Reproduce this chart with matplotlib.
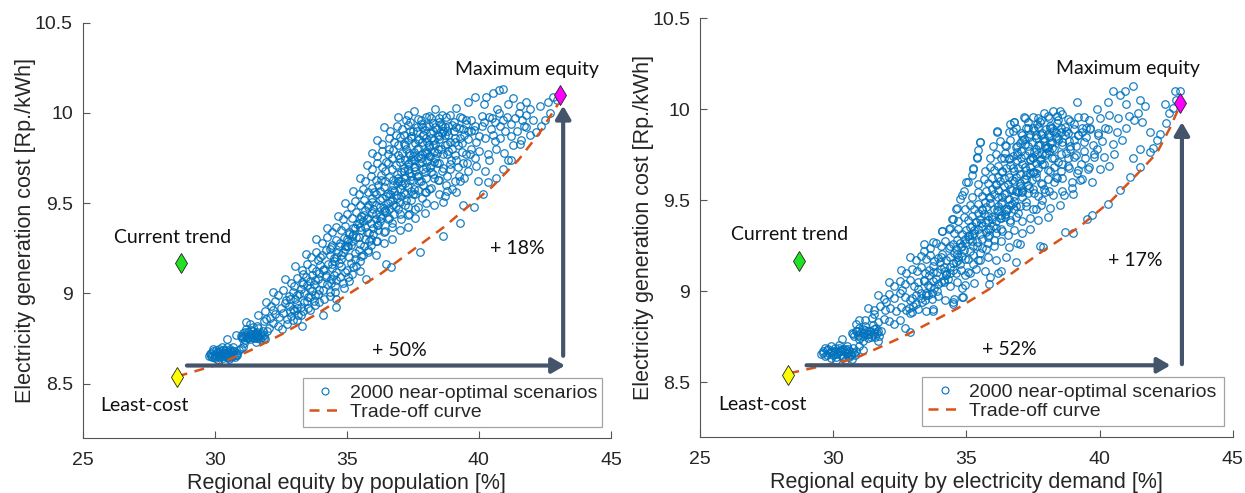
import numpy as np
import matplotlib
matplotlib.use("Agg")
import matplotlib.pyplot as plt
from matplotlib.lines import Line2D

plt.rcParams["font.family"] = ["Liberation Sans", "DejaVu Sans"]

# ---------------------------------------------------------------- data
# near-optimal scenarios, equity by population (x [%], cost [Rp./kWh])
pop_scenarios = [
    # lowest cluster
    (29.78, 8.655), (29.85, 8.67), (29.9, 8.645), (29.95, 8.68), (30.0, 8.66), (30.02, 8.64),
    (30.08, 8.675), (30.1, 8.655), (30.15, 8.69), (30.18, 8.645), (30.22, 8.665), (30.25, 8.68),
    (30.3, 8.655), (30.33, 8.64), (30.36, 8.67), (30.4, 8.685), (30.42, 8.66), (30.46, 8.645),
    (30.5, 8.675), (30.53, 8.655), (30.57, 8.665), (30.6, 8.69), (30.63, 8.645), (30.67, 8.67),
    (30.7, 8.655), (30.75, 8.68), (30.8, 8.66), (30.86, 8.67), (30.92, 8.685), (30.12, 8.63),
    (30.38, 8.625), (30.55, 8.635), (29.92, 8.69), (30.28, 8.7), (30.48, 8.705), (30.7, 8.705),
    (31.0, 8.695), (30.45, 8.745), (31.08, 8.7),
    # second cluster
    (30.98, 8.765), (31.02, 8.75), (31.06, 8.78), (31.1, 8.76), (31.14, 8.74), (31.18, 8.77),
    (31.22, 8.755), (31.26, 8.785), (31.3, 8.765), (31.34, 8.745), (31.38, 8.775), (31.42, 8.76),
    (31.46, 8.79), (31.5, 8.75), (31.54, 8.77), (31.58, 8.755), (31.62, 8.785), (31.66, 8.765),
    (31.7, 8.745), (31.74, 8.78), (31.78, 8.76), (31.83, 8.79), (31.88, 8.77), (31.2, 8.8),
    (31.45, 8.815), (31.65, 8.81), (31.9, 8.745), (32.0, 8.79), (31.1, 8.725), (31.55, 8.73),
    (31.2, 8.84), (30.8, 8.77),
    # main band
    (31.35, 8.83), (31.6, 8.82), (31.85, 8.845), (32.05, 8.81), (32.2, 8.835), (32.4, 8.82),
    (32.55, 8.805), (31.95, 8.86),
    (31.65, 8.88), (31.9, 8.9), (32.1, 8.865), (32.3, 8.885), (32.45, 8.87), (32.6, 8.89),
    (32.75, 8.86), (32.9, 8.875), (33.1, 8.855), (33.25, 8.88), (32.2, 8.91), (32.85, 8.9),
    (31.95, 8.95), (32.15, 8.93), (32.3, 8.955), (32.5, 8.92), (32.65, 8.945), (32.8, 8.93),
    (32.95, 8.915), (33.1, 8.94), (33.25, 8.925), (33.4, 8.95), (33.6, 8.91), (33.8, 8.935),
    (32.7, 8.965), (33.05, 8.97),
    (32.2, 9.01), (32.4, 8.99), (32.6, 9.02), (32.8, 8.985), (32.95, 9.005), (33.1, 8.99),
    (33.25, 9.025), (33.4, 9.0), (33.55, 8.98), (33.7, 9.015), (33.9, 8.995), (34.1, 9.02),
    (34.35, 8.985), (34.55, 9.005), (33.0, 9.04), (33.5, 9.045),
    (32.65, 9.08), (32.9, 9.06), (33.1, 9.085), (33.3, 9.065), (33.45, 9.09), (33.6, 9.07),
    (33.75, 9.05), (33.9, 9.08), (34.05, 9.06), (34.2, 9.09), (34.4, 9.055), (34.6, 9.075),
    (34.85, 9.06), (35.1, 9.07), (33.35, 9.11), (33.95, 9.115),
    (33.05, 9.15), (33.3, 9.13), (33.5, 9.16), (33.7, 9.14), (33.85, 9.125), (34.0, 9.155),
    (34.15, 9.135), (34.3, 9.165), (34.45, 9.14), (34.6, 9.12), (34.8, 9.15), (35.0, 9.13),
    (35.25, 9.145), (35.5, 9.125), (33.9, 9.185), (34.5, 9.18),
    (33.45, 9.22), (33.65, 9.2), (33.85, 9.23), (34.05, 9.21), (34.2, 9.24), (34.35, 9.215),
    (34.5, 9.195), (34.65, 9.23), (34.8, 9.21), (34.95, 9.245), (35.1, 9.2), (35.3, 9.225),
    (35.55, 9.205), (35.8, 9.23), (36.1, 9.215), (34.4, 9.255), (35.0, 9.26),
    (33.85, 9.3), (34.05, 9.28), (34.25, 9.31), (34.45, 9.27), (34.6, 9.295), (34.75, 9.28),
    (34.9, 9.305), (35.05, 9.265), (35.2, 9.29), (35.35, 9.31), (35.5, 9.275), (35.7, 9.3),
    (35.9, 9.27), (36.15, 9.29), (36.4, 9.28), (36.7, 9.3), (35.1, 9.33),
    (34.25, 9.36), (34.45, 9.34), (34.6, 9.37), (34.8, 9.35), (34.95, 9.375), (35.1, 9.34),
    (35.25, 9.36), (35.4, 9.385), (35.55, 9.35), (35.7, 9.37), (35.85, 9.335), (36.0, 9.36),
    (36.2, 9.38), (36.45, 9.345), (36.7, 9.365), (37.0, 9.35), (37.3, 9.37), (35.6, 9.4),
    (34.65, 9.43), (34.85, 9.41), (35.0, 9.44), (35.2, 9.42), (35.35, 9.45), (35.5, 9.41),
    (35.65, 9.435), (35.8, 9.42), (35.95, 9.445), (36.1, 9.41), (36.25, 9.43), (36.4, 9.455),
    (36.6, 9.42), (36.8, 9.44), (37.05, 9.41), (37.3, 9.435), (37.6, 9.42), (37.95, 9.445),
    (36.0, 9.47),
    (34.95, 9.5), (35.15, 9.48), (35.3, 9.51), (35.5, 9.49), (35.65, 9.52), (35.8, 9.48),
    (35.95, 9.505), (36.1, 9.49), (36.25, 9.515), (36.4, 9.475), (36.55, 9.5), (36.7, 9.52),
    (36.85, 9.485), (37.0, 9.505), (37.2, 9.49), (37.45, 9.515), (37.7, 9.48), (38.0, 9.5),
    (38.3, 9.49), (38.65, 9.505), (36.5, 9.54),
    (35.25, 9.57), (35.45, 9.55), (35.6, 9.58), (35.8, 9.56), (35.95, 9.585), (36.1, 9.55),
    (36.25, 9.57), (36.4, 9.59), (36.55, 9.555), (36.7, 9.575), (36.85, 9.545), (37.0, 9.58),
    (37.15, 9.56), (37.3, 9.59), (37.5, 9.55), (37.7, 9.575), (37.95, 9.56), (38.2, 9.585),
    (38.5, 9.55), (38.8, 9.57), (39.15, 9.56), (36.9, 9.61),
    (35.5, 9.64), (35.7, 9.62), (35.9, 9.65), (36.1, 9.63), (36.3, 9.655), (36.45, 9.62),
    (36.6, 9.645), (36.75, 9.63), (36.9, 9.66), (37.05, 9.625), (37.2, 9.645), (37.35, 9.665),
    (37.5, 9.63), (37.65, 9.65), (37.8, 9.62), (38.0, 9.64), (38.25, 9.66), (38.5, 9.63),
    (38.8, 9.65), (39.1, 9.625), (39.45, 9.64), (37.3, 9.69),
    (35.75, 9.71), (35.95, 9.69), (36.15, 9.72), (36.35, 9.7), (36.55, 9.725), (36.7, 9.69),
    (36.85, 9.71), (37.0, 9.73), (37.15, 9.695), (37.3, 9.715), (37.45, 9.74), (37.6, 9.7),
    (37.75, 9.72), (37.9, 9.69), (38.05, 9.735), (38.2, 9.71), (38.4, 9.725), (38.65, 9.695),
    (38.9, 9.715), (39.2, 9.7), (39.55, 9.72), (39.9, 9.705), (37.7, 9.755),
    (35.95, 9.78), (36.15, 9.76), (36.35, 9.79), (36.55, 9.77), (36.75, 9.795), (36.95, 9.765),
    (37.1, 9.78), (37.25, 9.8), (37.4, 9.765), (37.55, 9.785), (37.7, 9.805), (37.85, 9.77),
    (38.0, 9.79), (38.15, 9.76), (38.3, 9.785), (38.45, 9.8), (38.65, 9.77), (38.85, 9.79),
    (39.1, 9.765), (39.35, 9.785), (39.65, 9.77), (40.0, 9.79), (40.35, 9.775), (38.1, 9.82),
    (36.15, 9.85), (36.35, 9.83), (36.6, 9.86), (36.8, 9.84), (37.0, 9.865), (37.15, 9.83),
    (37.3, 9.85), (37.45, 9.87), (37.6, 9.835), (37.75, 9.855), (37.9, 9.875), (38.05, 9.84),
    (38.2, 9.86), (38.35, 9.83), (38.5, 9.855), (38.7, 9.875), (38.9, 9.84), (39.1, 9.86),
    (39.35, 9.835), (39.6, 9.855), (39.9, 9.84), (40.25, 9.86), (40.6, 9.845), (38.6, 9.89),
    (36.4, 9.92), (36.65, 9.9), (36.9, 9.93), (37.1, 9.91), (37.3, 9.935), (37.5, 9.9),
    (37.65, 9.92), (37.8, 9.94), (37.95, 9.905), (38.1, 9.925), (38.25, 9.945), (38.4, 9.91),
    (38.6, 9.93), (38.8, 9.9), (39.0, 9.935), (39.25, 9.915), (39.5, 9.94), (39.8, 9.905),
    (40.1, 9.925), (40.45, 9.91), (40.8, 9.93),
    (36.95, 9.975), (37.3, 9.99), (37.7, 9.965), (38.1, 9.985), (38.5, 9.97), (38.9, 9.99),
    (39.3, 9.975), (39.7, 9.96), (40.1, 9.985), (40.5, 9.97), (37.55, 10.01), (38.35, 10.02),
    (39.15, 10.03),
    # upper right lobe
    (39.85, 10.09), (40.2, 10.05), (40.55, 10.11), (40.9, 10.13), (41.1, 10.05), (41.3, 10.08),
    (41.55, 10.04), (41.8, 10.06), (40.7, 10.02), (39.6, 10.06), (40.78, 10.125), (40.28, 10.09),
    (40.4, 9.98), (40.6, 9.95), (40.75, 10.0), (40.9, 9.96), (41.05, 9.98), (41.2, 9.94),
    (41.35, 9.97), (41.5, 10.0), (41.65, 9.96), (41.8, 9.99), (41.95, 10.02), (40.55, 9.88),
    (40.8, 9.86), (41.0, 9.9), (41.2, 9.87), (41.45, 9.9), (41.7, 9.93), (40.65, 9.8),
    (40.95, 9.78), (41.3, 9.82), (41.6, 9.85), (40.4, 9.74), (41.1, 9.74), (39.95, 9.62),
    (40.25, 9.68),
    # sparse points along the frontier
    (34.59, 8.922), (35.74, 9.08), (36.5, 9.16), (36.68, 9.144), (37.76, 9.23), (38.64, 9.32),
    (39.27, 9.39), (39.4, 9.49), (39.82, 9.478), (40.15, 9.55), (40.34, 9.617), (40.66, 9.64),
    (40.9, 9.69), (41.2, 9.74), (41.54, 9.83), (41.92, 9.876), (42.17, 9.894), (42.51, 9.96),
    (42.3, 10.04), (42.6, 10.06), (42.8, 10.09), (42.68, 10.0), (42.04, 9.96), (41.8, 9.92),
    (42.96, 10.07), (42.35, 9.93), (34.1, 8.88), (33.3, 8.82),
]

# extra scenarios in the densest part of the population cloud
pop_core = [
    (36.6, 9.47), (36.9, 9.53), (37.1, 9.6), (37.25, 9.52), (37.4, 9.63), (37.55, 9.58),
    (37.6, 9.68), (37.75, 9.62), (37.85, 9.73), (37.95, 9.67), (38.05, 9.78), (38.15, 9.7),
    (38.25, 9.82), (38.35, 9.75), (38.45, 9.88), (38.55, 9.8), (38.7, 9.92), (38.8, 9.83),
    (37.9, 9.88), (38.0, 9.93), (37.65, 9.9), (37.45, 9.86), (37.35, 9.78), (37.2, 9.74),
    (37.05, 9.67), (36.95, 9.62), (36.8, 9.57), (36.65, 9.51), (36.45, 9.46), (36.3, 9.42),
    (36.15, 9.38), (36.0, 9.33), (35.85, 9.29), (35.65, 9.26), (35.45, 9.24), (35.3, 9.19),
    (35.15, 9.17), (34.95, 9.12), (34.75, 9.09), (34.55, 9.04), (34.35, 9.01), (34.15, 8.97),
    (33.95, 8.95), (33.75, 8.96), (33.55, 8.92), (33.35, 8.9), (33.15, 8.88), (32.95, 8.85),
    (32.75, 8.83), (38.75, 9.6), (38.95, 9.74), (39.2, 9.82), (39.45, 9.88), (39.05, 9.9),
    (38.6, 9.68), (38.3, 9.64), (38.1, 9.58), (37.85, 9.53), (37.6, 9.47), (37.35, 9.44),
    (39.4, 9.72), (39.7, 9.8), (39.85, 9.93), (40.2, 9.95),
    (32.85, 8.97), (33.2, 8.995), (33.6, 9.03), (33.35, 9.05), (33.8, 9.075), (34.2, 9.1),
    (33.7, 9.1), (34.1, 9.13), (34.45, 9.16), (34.0, 9.2), (34.6, 9.2), (34.85, 9.23),
    (34.35, 9.245), (34.7, 9.26), (35.15, 9.27), (35.0, 9.3), (35.45, 9.31), (35.25, 9.33),
    (35.75, 9.34), (35.5, 9.37), (35.9, 9.39), (36.25, 9.4), (35.75, 9.41), (36.1, 9.44),
    (36.5, 9.45), (36.25, 9.48), (36.75, 9.49), (36.35, 9.53), (36.65, 9.55), (37.05, 9.54),
    (36.75, 9.6), (37.2, 9.61), (36.95, 9.64), (37.45, 9.65), (37.15, 9.68), (37.55, 9.7),
    (37.35, 9.72), (37.8, 9.75), (37.5, 9.76), (37.95, 9.78), (37.65, 9.8), (38.1, 9.81),
    (37.85, 9.84), (38.3, 9.85), (38.0, 9.86), (38.5, 9.87), (38.15, 9.89), (38.65, 9.9),
    (38.35, 9.92), (38.85, 9.93), (38.5, 9.95), (39.05, 9.95), (37.8, 9.96), (38.2, 9.97),
    (38.75, 9.975), (39.35, 9.97), (37.4, 9.95), (37.15, 9.88), (36.95, 9.82), (36.7, 9.75),
    (36.45, 9.68), (36.2, 9.6), (35.95, 9.53), (35.7, 9.46), (35.45, 9.39), (35.2, 9.32),
    (34.95, 9.26), (34.7, 9.17), (34.4, 9.08), (33.95, 9.02), (33.5, 8.96), (33.0, 8.9),
    (38.5, 9.72), (38.8, 9.77), (39.1, 9.84), (39.4, 9.91), (38.2, 9.67), (37.9, 9.6),
    (37.6, 9.55), (37.3, 9.48), (37.0, 9.44), (36.7, 9.39), (36.4, 9.34), (36.1, 9.29),
    (35.8, 9.24), (35.5, 9.18), (35.2, 9.11), (34.9, 9.03), (34.6, 8.97), (39.7, 9.9),
    (40.0, 9.87), (39.85, 9.75), (39.6, 9.68), (39.3, 9.62), (39.0, 9.58), (38.7, 9.54),
    (29.82, 8.665), (29.98, 8.648), (30.05, 8.685), (30.2, 8.652), (30.27, 8.67), (30.35, 8.655),
    (30.44, 8.672), (30.52, 8.645), (30.6, 8.66), (30.68, 8.682), (30.77, 8.65), (30.84, 8.66),
    (30.14, 8.668), (30.58, 8.683), (30.31, 8.688), (29.88, 8.655),
    (31.04, 8.765), (31.16, 8.785), (31.28, 8.75), (31.4, 8.77), (31.52, 8.78), (31.64, 8.75),
    (31.76, 8.77), (31.36, 8.795), (31.6, 8.765), (31.85, 8.755),
    (37.0, 9.75), (37.2, 9.82), (37.4, 9.9), (37.55, 9.74), (37.7, 9.85), (37.85, 9.92),
    (38.0, 9.7), (38.1, 9.76), (38.25, 9.9), (38.4, 9.78), (38.55, 9.94), (38.7, 9.82),
    (38.85, 9.88), (39.0, 9.8), (39.15, 9.92), (39.3, 9.86), (39.5, 9.96), (39.6, 9.9),
    (38.0, 9.98), (38.6, 9.99), (37.25, 9.96), (36.85, 9.88), (36.6, 9.8), (36.5, 9.73),
    (36.3, 9.63), (36.05, 9.56), (35.8, 9.49), (35.55, 9.43), (35.3, 9.36), (35.05, 9.29),
    (34.8, 9.19), (34.5, 9.1), (34.25, 9.05), (33.8, 8.99), (33.6, 8.98), (33.1, 8.92),
    (37.45, 9.57), (37.7, 9.65), (37.2, 9.55), (36.95, 9.47), (36.55, 9.41), (36.2, 9.35),
    (35.9, 9.3), (35.6, 9.21), (35.35, 9.15), (35.05, 9.09), (38.3, 9.73), (38.9, 9.69),
    (38.45, 9.63), (38.0, 9.56), (39.15, 9.74), (39.5, 9.77), (39.25, 9.65),
]

# near-optimal scenarios, equity by electricity demand
dem_scenarios = [
    # lowest cluster
    (29.55, 8.655), (29.62, 8.67), (29.7, 8.645), (29.78, 8.68), (29.85, 8.66), (29.9, 8.635),
    (29.96, 8.675), (30.02, 8.655), (30.08, 8.69), (30.12, 8.64), (30.18, 8.665), (30.24, 8.68),
    (30.3, 8.65), (30.35, 8.635), (30.4, 8.67), (30.45, 8.685), (30.5, 8.66), (30.55, 8.645),
    (30.6, 8.675), (30.65, 8.655), (30.7, 8.665), (30.76, 8.69), (30.8, 8.65), (30.85, 8.675),
    (29.92, 8.7), (30.22, 8.705), (30.5, 8.7), (30.1, 8.625), (30.45, 8.625), (30.7, 8.63),
    (29.68, 8.69), (30.32, 8.74), (31.12, 8.68), (30.95, 8.7),
    # second cluster
    (30.7, 8.77), (30.78, 8.755), (30.85, 8.78), (30.92, 8.76), (30.98, 8.74), (31.05, 8.775),
    (31.12, 8.755), (31.18, 8.79), (31.25, 8.765), (31.32, 8.745), (31.38, 8.78), (31.45, 8.76),
    (31.52, 8.795), (31.58, 8.75), (31.65, 8.77), (31.72, 8.755), (31.78, 8.785), (30.95, 8.8),
    (31.2, 8.81), (31.48, 8.815), (31.7, 8.73), (31.1, 8.725), (30.85, 8.82), (31.6, 8.8),
    # main band
    (30.95, 8.845), (31.2, 8.84), (31.45, 8.855), (31.7, 8.83), (31.9, 8.85), (32.1, 8.835),
    (32.3, 8.82), (32.5, 8.84), (31.55, 8.875), (32.7, 8.8), (32.9, 8.775),
    (31.3, 8.91), (31.55, 8.9), (31.75, 8.92), (31.95, 8.895), (32.15, 8.91), (32.35, 8.89),
    (32.55, 8.915), (32.75, 8.9), (32.95, 8.885), (33.2, 8.905), (33.5, 8.89), (33.75, 8.905),
    (32.0, 8.94),
    (31.7, 8.98), (31.9, 8.96), (32.1, 8.985), (32.3, 8.965), (32.5, 8.99), (32.7, 8.97),
    (32.9, 8.955), (33.1, 8.98), (33.3, 8.965), (33.5, 8.99), (33.7, 8.96), (33.95, 8.975),
    (34.2, 8.95), (34.5, 8.94), (34.85, 8.97), (32.6, 9.01), (33.2, 9.015),
    (32.1, 9.05), (32.3, 9.03), (32.5, 9.055), (32.7, 9.04), (32.9, 9.06), (33.05, 9.03),
    (33.2, 9.05), (33.4, 9.065), (33.55, 9.035), (33.75, 9.055), (33.95, 9.04), (34.15, 9.06),
    (34.4, 9.03), (34.65, 9.05), (34.95, 9.035), (35.3, 9.045), (35.85, 9.04), (33.6, 9.09),
    (32.55, 9.12), (32.75, 9.1), (32.95, 9.125), (33.15, 9.11), (33.3, 9.135), (33.45, 9.1),
    (33.6, 9.12), (33.75, 9.14), (33.9, 9.105), (34.05, 9.125), (34.2, 9.11), (34.4, 9.135),
    (34.6, 9.1), (34.8, 9.12), (35.05, 9.105), (35.35, 9.125), (35.7, 9.11), (36.2, 9.1),
    (34.0, 9.16),
    (32.9, 9.19), (33.1, 9.17), (33.3, 9.195), (33.5, 9.18), (33.65, 9.2), (33.8, 9.165),
    (33.95, 9.185), (34.1, 9.205), (34.25, 9.17), (34.4, 9.19), (34.55, 9.21), (34.7, 9.175),
    (34.85, 9.195), (35.05, 9.18), (35.25, 9.2), (35.5, 9.17), (35.8, 9.19), (36.1, 9.175),
    (36.5, 9.19), (34.6, 9.235),
    (33.4, 9.26), (33.65, 9.24), (33.85, 9.265), (34.05, 9.25), (34.2, 9.275), (34.35, 9.24),
    (34.5, 9.26), (34.65, 9.28), (34.8, 9.245), (34.95, 9.265), (35.1, 9.285), (35.25, 9.25),
    (35.4, 9.27), (35.6, 9.24), (35.8, 9.265), (36.05, 9.25), (36.3, 9.275), (36.6, 9.245),
    (36.9, 9.265), (35.2, 9.31),
    (34.1, 9.33), (34.35, 9.345), (34.55, 9.32), (34.7, 9.34), (34.85, 9.315), (35.0, 9.335),
    (35.15, 9.355), (35.3, 9.32), (35.45, 9.34), (35.6, 9.36), (35.75, 9.325), (35.9, 9.345),
    (36.1, 9.32), (36.3, 9.34), (36.55, 9.31), (36.8, 9.335), (37.1, 9.32), (37.4, 9.34),
    (35.7, 9.38),
    (34.45, 9.4), (34.7, 9.385), (34.9, 9.41), (35.05, 9.39), (35.2, 9.415), (35.35, 9.38),
    (35.5, 9.4), (35.65, 9.425), (35.8, 9.39), (35.95, 9.41), (36.1, 9.385), (36.25, 9.405),
    (36.45, 9.425), (36.65, 9.39), (36.85, 9.41), (37.1, 9.385), (37.4, 9.405), (37.7, 9.39),
    (38.05, 9.41), (36.2, 9.44),
    (34.65, 9.46), (34.95, 9.45), (35.15, 9.475), (35.3, 9.455), (35.45, 9.48), (35.6, 9.445),
    (35.75, 9.465), (35.9, 9.485), (36.05, 9.45), (36.2, 9.47), (36.35, 9.49), (36.5, 9.455),
    (36.65, 9.475), (36.8, 9.45), (37.0, 9.47), (37.25, 9.49), (37.5, 9.455), (37.8, 9.475),
    (38.15, 9.46), (38.5, 9.475), (36.6, 9.51),
    (34.85, 9.53), (35.2, 9.52), (35.45, 9.545), (35.6, 9.525), (35.75, 9.55), (35.9, 9.515),
    (36.05, 9.535), (36.2, 9.555), (36.35, 9.52), (36.5, 9.54), (36.65, 9.56), (36.8, 9.525),
    (36.95, 9.545), (37.1, 9.52), (37.3, 9.54), (37.5, 9.56), (37.7, 9.525), (37.95, 9.545),
    (38.25, 9.53), (38.6, 9.55), (39.0, 9.535), (37.0, 9.58),
    (35.05, 9.6), (35.45, 9.59), (35.65, 9.615), (35.8, 9.595), (35.95, 9.62), (36.1, 9.585),
    (36.25, 9.605), (36.4, 9.625), (36.55, 9.59), (36.7, 9.61), (36.85, 9.63), (37.0, 9.595),
    (37.15, 9.615), (37.3, 9.585), (37.45, 9.61), (37.6, 9.63), (37.8, 9.595), (38.05, 9.615),
    (38.3, 9.6), (38.6, 9.62), (38.95, 9.6), (39.35, 9.615), (39.7, 9.6), (37.4, 9.65),
    (35.25, 9.67), (35.7, 9.66), (35.9, 9.685), (36.05, 9.665), (36.2, 9.69), (36.35, 9.655),
    (36.5, 9.675), (36.65, 9.695), (36.8, 9.66), (36.95, 9.68), (37.1, 9.7), (37.25, 9.665),
    (37.4, 9.685), (37.55, 9.655), (37.7, 9.68), (37.85, 9.7), (38.05, 9.665), (38.3, 9.685),
    (38.55, 9.66), (38.85, 9.68), (39.2, 9.665), (39.6, 9.685), (40.0, 9.67), (40.35, 9.69),
    (37.75, 9.72),
    (35.4, 9.74), (35.9, 9.73), (36.1, 9.755), (36.3, 9.735), (36.45, 9.76), (36.6, 9.725),
    (36.75, 9.745), (36.9, 9.765), (37.05, 9.73), (37.2, 9.75), (37.35, 9.77), (37.5, 9.735),
    (37.65, 9.755), (37.8, 9.725), (37.95, 9.75), (38.1, 9.77), (38.3, 9.735), (38.55, 9.755),
    (38.8, 9.73), (39.1, 9.75), (39.45, 9.735), (39.8, 9.755), (40.15, 9.74), (40.55, 9.755),
    (38.2, 9.79),
    (35.5, 9.82), (36.0, 9.8), (36.25, 9.825), (36.45, 9.805), (36.65, 9.83), (36.85, 9.795),
    (37.0, 9.815), (37.15, 9.835), (37.3, 9.8), (37.45, 9.82), (37.6, 9.84), (37.75, 9.805),
    (37.9, 9.825), (38.05, 9.795), (38.2, 9.82), (38.4, 9.84), (38.6, 9.805), (38.85, 9.825),
    (39.1, 9.8), (39.4, 9.82), (39.75, 9.805), (40.1, 9.825), (40.5, 9.81), (40.85, 9.83),
    (38.7, 9.86),
    (36.15, 9.88), (36.6, 9.875), (36.85, 9.895), (37.05, 9.87), (37.25, 9.9), (37.4, 9.865),
    (37.55, 9.885), (37.7, 9.905), (37.85, 9.87), (38.0, 9.89), (38.15, 9.91), (38.35, 9.875),
    (38.55, 9.895), (38.8, 9.87), (39.05, 9.89), (39.35, 9.875), (39.65, 9.895), (39.95, 9.87),
    (40.3, 9.89), (40.65, 9.875), (41.0, 9.9),
    (36.8, 9.93), (37.2, 9.95), (37.5, 9.96), (37.8, 9.94), (38.1, 9.955), (38.4, 9.965),
    (38.8, 9.945), (39.2, 9.96), (39.6, 9.94), (40.0, 9.955), (40.35, 9.97), (40.7, 9.95),
    (41.1, 9.965), (38.25, 9.99), (39.15, 10.04), (39.9, 10.0),
    # sparse upper-left edge
    (35.51, 9.82), (35.45, 9.776), (35.4, 9.73), (35.26, 9.68), (35.2, 9.64), (35.0, 9.6),
    (34.9, 9.55), (34.76, 9.51), (34.6, 9.45), (34.5, 9.4), (34.37, 9.35), (34.1, 9.33),
    (33.75, 9.27), (33.4, 9.22), (36.13, 9.877), (36.63, 9.92), (36.8, 9.93),
    # upper right lobe
    (40.5, 10.1), (40.76, 10.08), (41.26, 10.13), (41.5, 10.05), (41.45, 9.98), (40.3, 10.04),
    (41.0, 10.03), (41.7, 10.02), (41.6, 9.93), (41.3, 9.94), (40.95, 10.1),
    # sparse points along the frontier
    (35.88, 9.08), (36.88, 9.163), (37.88, 9.245), (38.7, 9.327), (39.0, 9.32), (39.51, 9.4),
    (39.7, 9.42), (40.32, 9.48), (40.76, 9.557), (41.14, 9.63), (41.51, 9.685), (41.89, 9.767),
    (42.14, 9.83), (42.26, 9.865), (42.51, 9.923), (42.6, 9.98), (42.76, 10.01), (42.88, 10.05),
    (43.01, 10.1), (42.83, 10.1), (42.45, 10.03), (41.89, 9.877), (41.51, 9.78), (41.26, 9.73),
    (42.0, 9.79), (34.5, 8.93), (34.88, 8.97), (36.3, 9.11), (33.76, 8.89), (37.0, 9.26),
    (37.75, 9.25),
]

# extra scenarios in the densest part of the demand cloud
dem_core = [
    (36.2, 9.52), (36.4, 9.58), (36.6, 9.63), (36.75, 9.68), (36.9, 9.72), (37.05, 9.77),
    (37.2, 9.81), (37.35, 9.85), (37.5, 9.9), (37.65, 9.92), (37.8, 9.86), (37.95, 9.8),
    (38.1, 9.85), (38.25, 9.88), (38.45, 9.83), (37.6, 9.78), (37.4, 9.72), (37.25, 9.64),
    (37.05, 9.57), (36.85, 9.55), (36.7, 9.48), (36.5, 9.44), (36.3, 9.42), (36.0, 9.36),
    (35.85, 9.31), (35.6, 9.29), (35.4, 9.25), (35.15, 9.22), (34.95, 9.18), (34.75, 9.15),
    (34.5, 9.12), (34.25, 9.09), (34.05, 9.05), (33.8, 9.02), (33.55, 8.98), (33.35, 8.94),
    (33.1, 8.93), (32.85, 8.91), (38.6, 9.7), (38.9, 9.78), (39.2, 9.86), (39.5, 9.85),
    (38.4, 9.62), (38.1, 9.55), (37.85, 9.5), (37.6, 9.45), (39.3, 9.7), (39.9, 9.78),
    (40.2, 9.9),
    (32.95, 8.965), (33.3, 8.99), (33.65, 9.025), (33.4, 9.055), (33.85, 9.07), (34.25, 9.095),
    (33.75, 9.105), (34.15, 9.135), (34.5, 9.155), (34.05, 9.19), (34.65, 9.205), (34.9, 9.225),
    (34.4, 9.25), (34.75, 9.265), (35.2, 9.275), (35.05, 9.305), (35.5, 9.315), (35.3, 9.335),
    (35.8, 9.345), (35.55, 9.375), (35.95, 9.395), (36.3, 9.405), (35.8, 9.415), (36.15, 9.445),
    (36.55, 9.455), (36.3, 9.485), (36.8, 9.495), (36.4, 9.535), (36.7, 9.555), (37.1, 9.545),
    (36.8, 9.605), (37.25, 9.615), (37.0, 9.645), (37.5, 9.655), (37.2, 9.685), (37.6, 9.705),
    (37.4, 9.725), (37.85, 9.755), (37.55, 9.765), (38.0, 9.785), (37.7, 9.805), (38.15, 9.815),
    (37.9, 9.845), (38.35, 9.855), (38.05, 9.865), (38.55, 9.875), (38.2, 9.895), (38.7, 9.905),
    (38.4, 9.925), (38.9, 9.935), (37.7, 9.95), (38.05, 9.965), (38.6, 9.975), (37.3, 9.93),
    (37.1, 9.86), (36.9, 9.8), (36.6, 9.73), (36.35, 9.66), (36.1, 9.59), (35.85, 9.52),
    (35.6, 9.45), (35.35, 9.38), (35.1, 9.31), (34.85, 9.25), (34.6, 9.16), (34.3, 9.07),
    (33.9, 9.0), (33.45, 8.95), (32.9, 8.88), (38.45, 9.71), (38.75, 9.76), (39.05, 9.83),
    (39.35, 9.9), (38.15, 9.66), (37.85, 9.59), (37.55, 9.54), (37.25, 9.47), (36.95, 9.43),
    (36.65, 9.38), (36.35, 9.33), (36.05, 9.28), (35.75, 9.23), (35.45, 9.17), (35.15, 9.1),
    (34.85, 9.02), (34.55, 8.96), (39.65, 9.89), (39.95, 9.86), (39.8, 9.74), (39.55, 9.67),
    (39.25, 9.61), (38.95, 9.57), (38.65, 9.53),
    (29.6, 8.662), (29.75, 8.648), (29.82, 8.685), (29.98, 8.652), (30.05, 8.67), (30.15, 8.655),
    (30.27, 8.672), (30.38, 8.645), (30.47, 8.66), (30.57, 8.682), (30.67, 8.65), (30.78, 8.662),
    (29.9, 8.668), (30.35, 8.683), (30.2, 8.688), (30.6, 8.64),
    (30.75, 8.765), (30.88, 8.785), (31.0, 8.75), (31.15, 8.77), (31.28, 8.78), (31.42, 8.75),
    (31.55, 8.77), (31.1, 8.795), (31.35, 8.765), (31.68, 8.785),
    (36.9, 9.75), (37.1, 9.83), (37.3, 9.9), (37.45, 9.74), (37.6, 9.86), (37.75, 9.93),
    (37.9, 9.7), (38.0, 9.76), (38.15, 9.9), (38.3, 9.78), (38.45, 9.94), (38.6, 9.82),
    (38.75, 9.88), (38.9, 9.8), (39.05, 9.92), (39.2, 9.86), (39.4, 9.96), (39.5, 9.9),
    (37.9, 9.98), (38.5, 9.99), (37.15, 9.96), (36.75, 9.88), (36.5, 9.8), (36.4, 9.73),
    (36.2, 9.63), (35.95, 9.56), (35.7, 9.49), (35.45, 9.43), (35.2, 9.36), (34.95, 9.29),
    (34.7, 9.19), (34.4, 9.1), (34.15, 9.05), (33.7, 8.99), (33.5, 8.98), (33.0, 8.92),
    (37.35, 9.57), (37.6, 9.65), (37.1, 9.55), (36.85, 9.47), (36.45, 9.41), (36.1, 9.35),
    (35.8, 9.3), (35.5, 9.21), (35.25, 9.15), (34.95, 9.09), (38.2, 9.73), (38.8, 9.69),
    (38.35, 9.63), (37.9, 9.56), (39.05, 9.74), (39.4, 9.77), (39.15, 9.65),
]

# trade-off curves
pop_curve_x = [28.6, 30.0, 31.3, 32.5, 33.8, 35.0, 36.3, 37.5, 38.7, 39.5, 40.5, 41.5, 42.3, 43.0]
pop_curve_y = [8.54, 8.60, 8.68, 8.77, 8.88, 8.99, 9.11, 9.24, 9.37, 9.47, 9.59, 9.74, 9.89, 10.05]
dem_curve_x = [28.35, 30.8, 32.6, 34.65, 36.0, 37.75, 39.25, 40.45, 41.45, 42.15, 42.65, 42.95]
dem_curve_y = [8.55, 8.63, 8.75, 8.905, 9.025, 9.21, 9.355, 9.50, 9.65, 9.76, 9.90, 10.0]

# highlighted scenarios: (least-cost, current trend, maximum equity)
pop_least_cost = (28.58, 8.535)
pop_current = (28.72, 9.167)
pop_max_equity = (43.08, 10.098)
dem_least_cost = (28.31, 8.542)
dem_current = (28.72, 9.168)
dem_max_equity = (43.02, 10.035)

pop_gain = ("+ 50%", "+ 18%")
dem_gain = ("+ 52%", "+ 17%")

# ---------------------------------------------------------------- styling
BLUE = "#0072BD"
ORANGE = "#D95319"
ARROW = "#44546A"
AXCOL = "#555555"
TXT = "#262626"
ANNO_FONT = ["Lato", "DejaVu Sans"]


def draw_panel(ax, pts, cx, cy, least, current, maxeq, gains, xlabel, arrows, labels):
    pts = np.array(pts)
    ax.plot(pts[:, 0], pts[:, 1], "o", ls="none", mfc="none", mec=BLUE,
            ms=5.4, mew=0.9, alpha=0.9, zorder=2)
    ax.plot(cx, cy, color=ORANGE, lw=1.8, ls=(0, (4, 3)), zorder=3)

    # arrows
    (hx0, hx1, hy), (vx, vy0, vy1) = arrows
    props = dict(arrowstyle="-|>,head_length=0.55,head_width=0.32", color=ARROW,
                 lw=3, shrinkA=0, shrinkB=0, mutation_scale=14)
    ax.annotate("", xy=(hx1, hy), xytext=(hx0, hy), arrowprops=props, zorder=4)
    ax.annotate("", xy=(vx, vy1), xytext=(vx, vy0), arrowprops=props, zorder=4)

    for (px, py), col in ((least, "#FFFF00"), (current, "#22E022"), (maxeq, "#FF00FF")):
        ax.plot(px, py, marker="d", ms=10, mfc=col, mec="#222222", mew=0.6, zorder=5)

    for txt, (tx, ty) in zip(["Maximum equity", "Current trend", "Least-cost",
                              gains[0], gains[1]], labels):
        ax.text(tx, ty, txt, ha="center", va="center", fontsize=14,
                family=ANNO_FONT, color="#111111", zorder=6)

    ax.set_xlim(25, 45)
    ax.set_ylim(8.2, 10.5)
    ax.set_xticks([25, 30, 35, 40, 45])
    ax.set_yticks([8.5, 9, 9.5, 10, 10.5])
    ax.set_yticklabels(["8.5", "9", "9.5", "10", "10.5"])
    for s in ("top", "right"):
        ax.spines[s].set_visible(False)
    for s in ("left", "bottom"):
        ax.spines[s].set_color(AXCOL)
        ax.spines[s].set_linewidth(0.8)
    ax.tick_params(direction="in", length=5, width=0.8, color=AXCOL,
                   labelsize=14, labelcolor=TXT)
    ax.tick_params(axis="x", pad=10)
    ax.tick_params(axis="y", pad=7)
    ax.set_xlabel(xlabel, fontsize=15.5, color=TXT, labelpad=3)
    ax.set_ylabel("Electricity generation cost [Rp./kWh]", fontsize=15.5,
                  color=TXT, labelpad=-1)

    handles = [
        Line2D([], [], marker="o", ls="none", mfc="none", mec=BLUE, ms=5, mew=0.8),
        Line2D([], [], color=ORANGE, lw=1.8, ls=(0, (4, 3))),
    ]
    leg = ax.legend(handles, ["2000 near-optimal scenarios", "Trade-off curve"],
                    loc="lower left", bbox_to_anchor=(0.417, 0.026, 0.566, 0.13),
                    mode="expand", fontsize=14, frameon=True, fancybox=False,
                    handlelength=1.7, handletextpad=0.4, borderpad=0.3,
                    labelspacing=0.1, borderaxespad=0)
    leg.get_frame().set_edgecolor("#8c8c8c")
    leg.get_frame().set_linewidth(0.9)
    for t in leg.get_texts():
        t.set_color(TXT)


fig = plt.figure(figsize=(12.45, 4.93), dpi=100)
ax1 = fig.add_axes([82.5 / 1245, 55.3 / 493, 528.5 / 1245, 415 / 493])
ax2 = fig.add_axes([700 / 1245, 56 / 493, 532.8 / 1245, 418.7 / 493])

draw_panel(ax1, pop_scenarios + pop_core, pop_curve_x, pop_curve_y,
           pop_least_cost, pop_current, pop_max_equity, pop_gain,
           "Regional equity by population [%]",
           ((28.95, 43.26, 8.6), (43.19, 8.654, 10.04)),
           [(41.8, 10.24), (28.41, 9.31), (27.34, 8.38), (36.98, 8.686), (41.47, 9.25)])
draw_panel(ax2, dem_scenarios + dem_core, dem_curve_x, dem_curve_y,
           dem_least_cost, dem_current, dem_max_equity, dem_gain,
           "Regional equity by electricity demand [%]",
           ((29.0, 42.66, 8.594), (43.09, 8.6, 9.93)),
           [(41.08, 10.225), (28.38, 9.31), (27.34, 8.38), (36.6, 8.682), (41.35, 9.172)])

fig.savefig("out.png", dpi=100)
